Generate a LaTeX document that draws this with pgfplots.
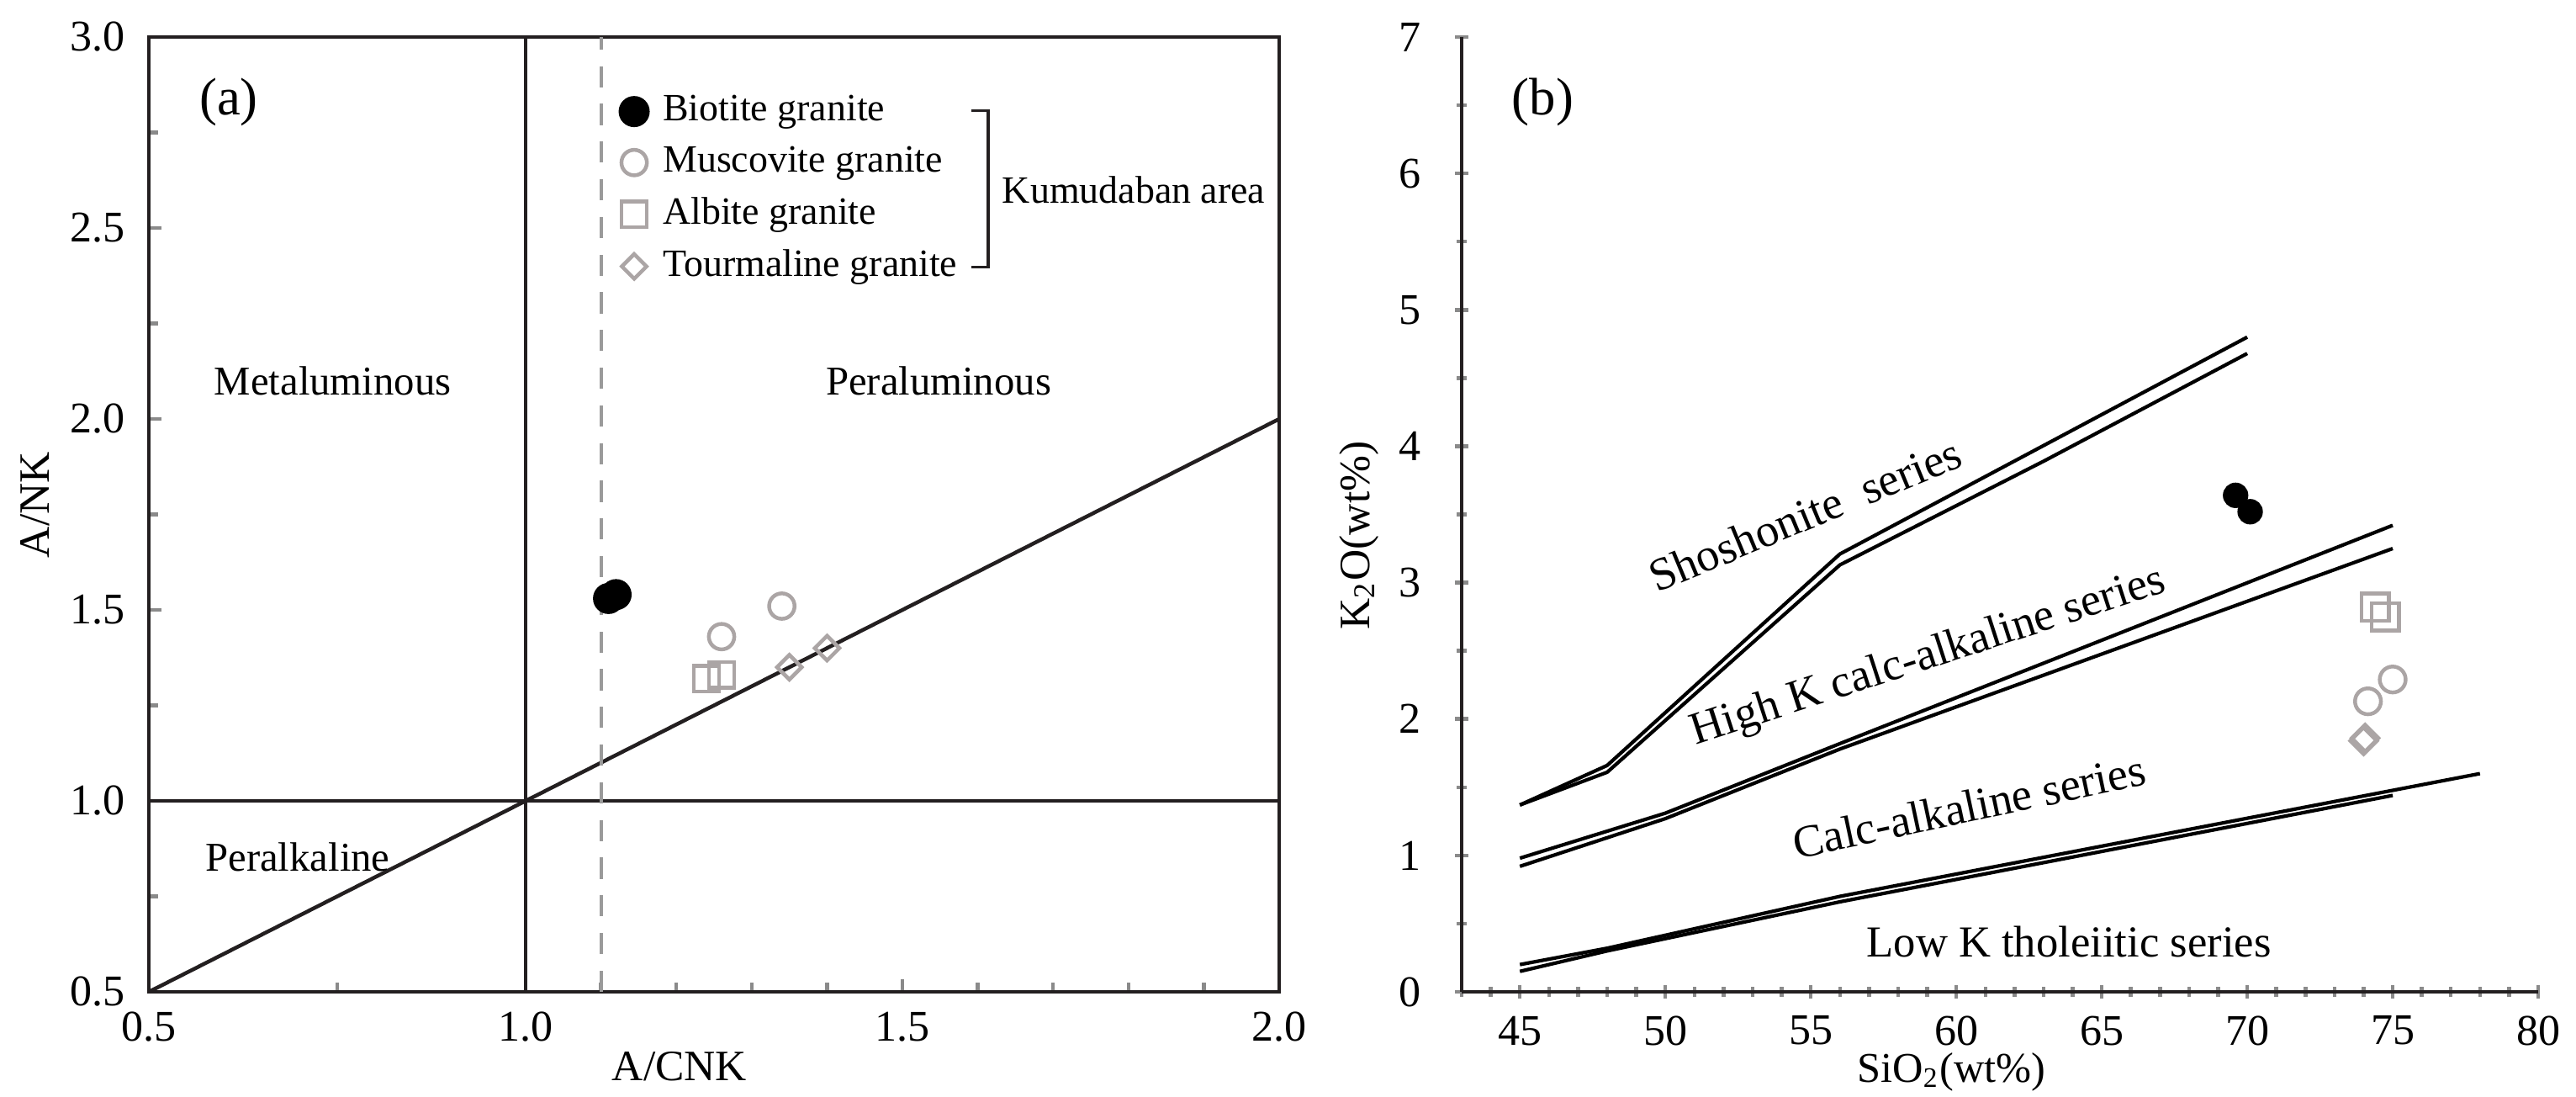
\documentclass[border=0pt]{standalone}
\usepackage{fontspec}
\setmainfont{Liberation Serif}
\usepackage{pgfplots}
\pgfplotsset{compat=1.18}

\definecolor{axisdark}{HTML}{231F20}
\definecolor{markgray}{HTML}{ABA5A5}
\definecolor{tickgray}{HTML}{8A8A8A}
\definecolor{dashgray}{HTML}{9A9A9A}

\newcommand{\fs}[1]{\fontsize{#1}{#1}\selectfont}

\pgfplotsset{
  panel/.style={
    scale only axis, anchor=south west, clip=false,
    axis line style={axisdark, line width=0.8pt},
    every tick/.style={tickgray, line width=0.8pt},
    major tick length=2.7pt, minor tick length=2pt,
    tick align=inside, tick pos=left,
    tick label style={font=\fs{9.3}, inner sep=0pt},
    /pgf/number format/assume math mode=true,
    label style={font=\fs{9.2}},
  },
  bline/.style={black, line width=0.75pt, forget plot},
}

\begin{document}
\begin{tikzpicture}
\useasboundingbox (0,0) rectangle (546.96pt,232.68pt);

% (a) A/NK - A/CNK
\begin{axis}[panel, at={(31.61pt,22.14pt)}, width=240pt, height=202.68pt,
  xmin=0.5, xmax=2, ymin=0.5, ymax=3,
  xtick={0.5,1,1.5,2}, ytick={0.5,1,1.5,2,2.5,3},
  minor xtick={0.75,1.1,1.2,1.3,1.4,1.6,1.7,1.8,1.9},
  minor ytick={0.75,1.25,1.75,2.25,2.75},
  xticklabel style={/pgf/number format/.cd, fixed, fixed zerofill, precision=1},
  yticklabel style={/pgf/number format/.cd, fixed, fixed zerofill, precision=1},
  xticklabel shift=4.1pt, yticklabel shift=4.8pt,
  xlabel={A/CNK}, ylabel={A/NK},
  xlabel style={at={(axis description cs:0.4695,-0.0785)}, anchor=center},
  ylabel style={at={(axis description cs:-0.1004,0.51)}, anchor=center},
  legend style={at={(axis cs:1.1234,2.85)}, anchor=north west, draw=none, fill=none,
    font=\fs{8.2}, inner sep=0pt, row sep=3.9pt, column sep=3pt,
    nodes={inner sep=0pt}},
  legend cell align=left,
  legend image code/.code={\draw[#1] plot coordinates {(0pt,0pt)};},
]
\addplot[axisdark, line width=0.8pt, forget plot] coordinates {(1,0.5) (1,3)};
\addplot[axisdark, line width=0.8pt, forget plot] coordinates {(0.5,1) (2,1)};
\addplot[axisdark, line width=0.8pt, forget plot] coordinates {(0.5,0.5) (2,2)};
\addplot[dashgray, line width=0.7pt, dash pattern=on 4.5pt off 3.5pt, forget plot]
  coordinates {(1.1,0.5) (1.1,3)};

\addplot[only marks, mark=*, mark size=3.1pt, mark options={draw=black, fill=black}]
  coordinates {(1.11,1.53) (1.12,1.54)};
\addlegendentry{Biotite granite}
\addplot[only marks, mark=o, mark size=2.7pt, mark options={draw=markgray, line width=0.8pt}]
  coordinates {(1.26,1.43) (1.34,1.51)};
\addlegendentry{Muscovite granite}
\addplot[only marks, mark=square, mark size=2.7pt, mark options={draw=markgray, line width=0.8pt}]
  coordinates {(1.24,1.32) (1.26,1.33)};
\addlegendentry{Albite granite}
\addplot[only marks, mark=square, mark size=1.85pt, mark options={draw=markgray, line width=0.8pt, rotate=45}]
  coordinates {(1.35,1.35) (1.40,1.40)};
\addlegendentry{Tourmaline granite}

\node[font=\fs{11.2}] at (axis cs:0.606,2.83) {(a)};
\node[font=\fs{8.7}] at (axis cs:0.744,2.10) {Metaluminous};
\node[font=\fs{8.7}] at (axis cs:1.548,2.10) {Peraluminous};
\node[font=\fs{8.7}] at (axis cs:0.6975,0.853) {Peralkaline};
\draw[axisdark, line width=0.6pt] (axis cs:1.591,2.807) -- (axis cs:1.614,2.807)
  -- (axis cs:1.614,2.397) -- (axis cs:1.591,2.397);
\node[font=\fs{8.2}, anchor=base west, inner sep=0pt] at (axis cs:1.6315,2.566) {Kumudaban area};
\end{axis}

% (b) K2O - SiO2
\begin{axis}[panel, at={(310.36pt,22.14pt)}, width=228.57pt, height=202.68pt,
  axis lines=left, axis line style={-},
  xmin=43, xmax=80, ymin=0, ymax=7,
  xtick={45,50,...,80}, ytick={0,1,...,7},
  minor xtick={43,44,...,80}, minor ytick={0.5,1.5,...,6.5},
  xticklabel shift=3.6pt, yticklabel shift=7.1pt,
  xlabel={SiO\textsubscript{2}(wt\%)}, ylabel={K\textsubscript{2}O(wt\%)},
  xlabel style={at={(axis description cs:0.455,-0.084)}, anchor=center, font=\fs{9}},
  ylabel style={at={(axis description cs:-0.0954,0.478)}, anchor=center},
]
% series boundaries, two lines each
\addplot[bline] coordinates {(45,1.37) (48,1.66) (56,3.21) (70,4.8)};
\addplot[bline] coordinates {(45,1.37) (48,1.61) (56,3.13) (63,3.89) (70,4.68)};
\addplot[bline] coordinates {(45,0.98) (50,1.31) (56,1.82) (75,3.42)};
\addplot[bline] coordinates {(45,0.92) (50,1.27) (56,1.78) (75,3.25)};
\addplot[bline] coordinates {(45,0.2) (48,0.32) (56,0.7) (78,1.6)};
\addplot[bline] coordinates {(45,0.15) (48,0.3) (56,0.66) (75,1.44)};

\addplot[only marks, mark=*, mark size=2.5pt, mark options={draw=black, fill=black}]
  coordinates {(69.6,3.64) (70.1,3.52)};
\addplot[only marks, mark=o, mark size=2.75pt, mark options={draw=markgray, line width=0.8pt}]
  coordinates {(74.15,2.13) (75.0,2.29)};
\addplot[only marks, mark=square, mark size=2.9pt, mark options={draw=markgray, line width=0.8pt}]
  coordinates {(74.4,2.82) (74.75,2.75)};
\addplot[only marks, mark=square, mark size=2.0pt, mark options={draw=markgray, line width=0.8pt, rotate=45}]
  coordinates {(74.0,1.84) (74.05,1.86)};

\node[font=\fs{11.2}] at (axis cs:45.79,6.52) {(b)};
\node[font=\fs{9.8}, rotate=22.5] at (axis cs:54.8,3.5) {Shoshonite\ \ series};
\node[font=\fs{9.7}, rotate=18] at (axis cs:59.04,2.45) {High K calc-alkaline series};
\node[font=\fs{9.7}, rotate=12] at (axis cs:60.43,1.36) {Calc-alkaline series};
\node[font=\fs{9.4}, anchor=base] at (axis cs:63.87,0.256) {Low K tholeiitic series};
\end{axis}
\end{tikzpicture}
\end{document}
